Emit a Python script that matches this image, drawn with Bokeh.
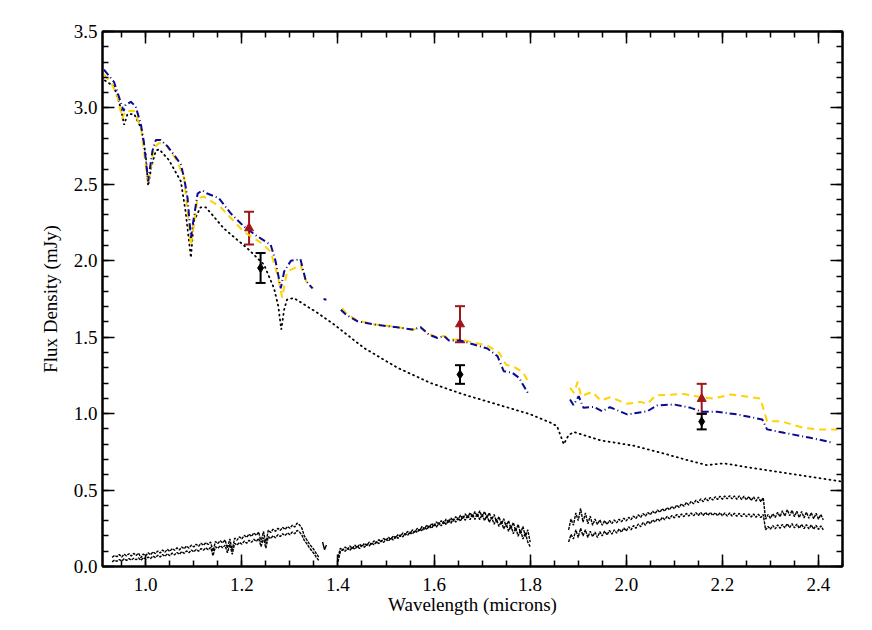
from bokeh.plotting import figure
from bokeh.models import (LinearAxis, FixedTicker, PrintfTickFormatter, Range1d,
                          ColumnDataSource, Whisker, TeeHead)
from bokeh.embed import file_html
from bokeh.resources import INLINE

NAN = float("nan")
FONT = "'Liberation Serif', 'Times New Roman', serif"

# ---------------- data ----------------
# dotted model photosphere
model_x = [0.915, 0.934, 0.948, 0.955, 0.962, 0.976, 0.990, 1.000, 1.005, 1.012, 1.021, 1.028,
           1.048, 1.073, 1.083, 1.094, 1.100, 1.114, 1.125, 1.163, 1.212, 1.246, 1.267, 1.276,
           1.282, 1.288, 1.294, 1.308, 1.357, 1.392, 1.454, 1.524, 1.593, 1.662, 1.732, 1.801,
           1.843, 1.856, 1.870, 1.880, 1.891, 1.947, 2.016, 2.085, 2.134, 2.168, 2.203, 2.259,
           2.328, 2.397, 2.450]
model_y = [3.18, 3.14, 3.00, 2.89, 2.96, 2.96, 2.87, 2.69, 2.49, 2.62, 2.72, 2.73,
           2.66, 2.52, 2.32, 2.02, 2.26, 2.35, 2.35, 2.21, 2.08, 1.975, 1.82, 1.70,
           1.55, 1.68, 1.746, 1.757, 1.66, 1.583, 1.43, 1.30, 1.20, 1.125, 1.06, 0.995,
           0.94, 0.918, 0.80, 0.86, 0.88, 0.825, 0.79, 0.733, 0.69, 0.663, 0.675, 0.646,
           0.613, 0.58, 0.555]

# blue dash-dot model
blue_x1 = [0.913, 0.934, 0.944, 0.954, 0.958, 0.969, 0.979, 0.990, 0.996, 1.005, 1.014, 1.021,
           1.031, 1.045, 1.062, 1.073, 1.080, 1.087, 1.094, 1.099, 1.108, 1.118, 1.128, 1.152,
           1.177, 1.204, 1.232, 1.260, 1.270, 1.281, 1.288, 1.302, 1.322, 1.333, 1.347]
blue_y1 = [3.25, 3.17, 3.075, 2.98, 3.02, 3.04, 3.01, 2.89, 2.78, 2.52, 2.72, 2.79,
           2.79, 2.75, 2.68, 2.63, 2.54, 2.41, 2.15, 2.26, 2.44, 2.46, 2.44, 2.41,
           2.31, 2.225, 2.16, 2.105, 2.00, 1.82, 1.93, 2.00, 2.01, 1.87, 1.82]
blue_x2 = [1.370, 1.376]
blue_y2 = [1.75, 1.745]
blue_x3 = [1.406, 1.416, 1.440, 1.475, 1.523, 1.555, 1.572, 1.589, 1.607, 1.621, 1.631, 1.655,
           1.683, 1.711, 1.732, 1.745, 1.763, 1.777, 1.795]
blue_y3 = [1.68, 1.65, 1.605, 1.583, 1.565, 1.55, 1.565, 1.518, 1.495, 1.507, 1.478, 1.478,
           1.452, 1.426, 1.376, 1.278, 1.267, 1.234, 1.136]
blue_x4 = [1.883, 1.890, 1.901, 1.911, 1.933, 1.950, 1.966, 2.002, 2.044, 2.064, 2.099, 2.134,
           2.158, 2.189, 2.231, 2.283, 2.293, 2.328, 2.383, 2.430]
blue_y4 = [1.093, 1.056, 1.114, 1.038, 1.044, 1.016, 1.042, 0.995, 1.016, 1.053, 1.060, 1.038,
           1.012, 1.012, 0.995, 0.962, 0.897, 0.875, 0.842, 0.810]

# yellow dashed model
yel_x1 = [0.913, 0.929, 0.941, 0.951, 0.958, 0.976, 0.990, 1.005, 1.017, 1.028, 1.042, 1.066,
          1.080, 1.094, 1.108, 1.121, 1.156, 1.183, 1.204, 1.239, 1.260, 1.274, 1.284, 1.294,
          1.308, 1.322, 1.336, 1.349]
yel_y1 = [3.22, 3.16, 3.075, 2.93, 2.98, 2.98, 2.87, 2.50, 2.74, 2.77, 2.76, 2.65,
          2.54, 2.10, 2.41, 2.42, 2.35, 2.26, 2.19, 2.12, 2.06, 1.91, 1.76, 1.93,
          1.95, 1.975, 1.845, 1.82]
yel_x2 = [1.409, 1.416, 1.440, 1.475, 1.523, 1.555, 1.572, 1.589, 1.607, 1.621, 1.631, 1.655,
          1.683, 1.711, 1.735, 1.750, 1.770, 1.785, 1.798]
yel_y2 = [1.69, 1.66, 1.61, 1.585, 1.567, 1.548, 1.563, 1.52, 1.50, 1.51, 1.485, 1.485,
          1.465, 1.445, 1.40, 1.32, 1.30, 1.27, 1.20]
yel_x3 = [1.883, 1.891, 1.899, 1.906, 1.929, 1.947, 1.967, 2.002, 2.030, 2.044, 2.061, 2.120,
          2.155, 2.182, 2.217, 2.245, 2.279, 2.293, 2.321, 2.369, 2.397, 2.439]
yel_y3 = [1.169, 1.136, 1.208, 1.114, 1.142, 1.086, 1.108, 1.064, 1.077, 1.064, 1.119, 1.129,
          1.108, 1.099, 1.125, 1.114, 1.099, 0.951, 0.951, 0.907, 0.897, 0.897]

# photometry
red_x = [1.215, 1.654, 2.157]
red_y = [2.213, 1.585, 1.097]
red_err = [0.107, 0.118, 0.098]
blk_x = [1.239, 1.654, 2.157]
blk_y = [1.953, 1.256, 0.948]
blk_err = [0.098, 0.061, 0.051]

# observed noisy spectra (two epochs), 0.005 micron grid
STEP = 0.005
specA_start = 0.930
specA_up = [0.060, 0.072, 0.064, 0.078, 0.062, 0.080, 0.070, 0.084, 0.068, 0.086, 0.072, 0.088,
            0.058, 0.082, 0.070, 0.090, 0.076, 0.096, 0.084, 0.102, 0.088, 0.108, 0.094, 0.112,
            0.098, 0.118, 0.106, 0.122, 0.108, 0.128, 0.116, 0.134, 0.120, 0.140, 0.128, 0.146,
            0.132, 0.152, 0.138, 0.156, 0.144, 0.160, 0.100, 0.164, 0.150, 0.168, 0.154, 0.174,
            0.120, 0.180, 0.105, 0.186, 0.172, 0.194, 0.180, 0.204, 0.190, 0.212, 0.196, 0.220,
            0.204, 0.226, 0.160, 0.230, 0.150, 0.238, 0.222, 0.244, 0.230, 0.250, 0.236, 0.256,
            0.242, 0.262, 0.250, 0.270, 0.258, 0.284, 0.272, 0.250, 0.200, 0.175, 0.150, 0.130,
            0.110, 0.085, 0.060]
specA_lo = [0.030, 0.042, 0.034, 0.046, 0.036, 0.050, 0.040, 0.052, 0.042, 0.054, 0.044, 0.056,
            0.040, 0.058, 0.048, 0.062, 0.052, 0.068, 0.058, 0.074, 0.062, 0.078, 0.066, 0.084,
            0.070, 0.088, 0.076, 0.092, 0.080, 0.098, 0.086, 0.102, 0.090, 0.108, 0.096, 0.112,
            0.100, 0.118, 0.106, 0.122, 0.110, 0.126, 0.070, 0.130, 0.118, 0.136, 0.122, 0.140,
            0.090, 0.146, 0.080, 0.152, 0.140, 0.158, 0.146, 0.166, 0.152, 0.172, 0.158, 0.178,
            0.164, 0.184, 0.130, 0.188, 0.120, 0.196, 0.182, 0.202, 0.188, 0.208, 0.196, 0.214,
            0.202, 0.220, 0.208, 0.226, 0.214, 0.236, 0.226, 0.205, 0.170, 0.150, 0.125, 0.105,
            0.085, 0.060, 0.040]
specK_x = [1.368, 1.372, 1.376]
specK_y = [0.16, 0.11, 0.14]
specB_start = 1.400
specB_up = [0.060, 0.120, 0.105, 0.128, 0.112, 0.134, 0.118, 0.140, 0.124, 0.146, 0.130, 0.152,
            0.138, 0.160, 0.146, 0.168, 0.154, 0.176, 0.162, 0.184, 0.170, 0.192, 0.178, 0.200,
            0.186, 0.210, 0.196, 0.220, 0.206, 0.230, 0.214, 0.240, 0.224, 0.250, 0.234, 0.262,
            0.244, 0.272, 0.254, 0.282, 0.262, 0.292, 0.272, 0.300, 0.280, 0.310, 0.288, 0.318,
            0.296, 0.326, 0.304, 0.336, 0.312, 0.344, 0.318, 0.352, 0.322, 0.360, 0.326, 0.364,
            0.324, 0.360, 0.318, 0.352, 0.306, 0.340, 0.290, 0.326, 0.276, 0.312, 0.260, 0.300,
            0.246, 0.288, 0.232, 0.276, 0.216, 0.262, 0.196, 0.240, 0.160]
specB_lo = [0.030, 0.098, 0.112, 0.100, 0.120, 0.106, 0.126, 0.112, 0.132, 0.118, 0.138, 0.126,
            0.146, 0.134, 0.154, 0.142, 0.162, 0.150, 0.170, 0.158, 0.178, 0.166, 0.186, 0.174,
            0.196, 0.184, 0.206, 0.194, 0.216, 0.204, 0.226, 0.212, 0.236, 0.222, 0.248, 0.232,
            0.258, 0.242, 0.268, 0.250, 0.278, 0.258, 0.288, 0.266, 0.296, 0.274, 0.304, 0.282,
            0.312, 0.290, 0.320, 0.296, 0.330, 0.302, 0.338, 0.306, 0.344, 0.308, 0.346, 0.306,
            0.342, 0.300, 0.334, 0.290, 0.322, 0.276, 0.310, 0.262, 0.296, 0.246, 0.282, 0.230,
            0.268, 0.214, 0.254, 0.198, 0.240, 0.180, 0.222, 0.160, 0.130]
specC_start = 1.880
specC_up = [0.240, 0.310, 0.270, 0.350, 0.300, 0.380, 0.290, 0.350, 0.280, 0.330, 0.270, 0.310,
            0.275, 0.305, 0.270, 0.300, 0.275, 0.302, 0.280, 0.305, 0.286, 0.310, 0.292, 0.316,
            0.298, 0.322, 0.306, 0.330, 0.314, 0.338, 0.322, 0.346, 0.330, 0.354, 0.338, 0.362,
            0.346, 0.370, 0.354, 0.378, 0.362, 0.386, 0.370, 0.394, 0.378, 0.402, 0.386, 0.410,
            0.394, 0.418, 0.402, 0.426, 0.410, 0.434, 0.418, 0.442, 0.424, 0.448, 0.430, 0.452,
            0.434, 0.456, 0.438, 0.460, 0.440, 0.462, 0.442, 0.464, 0.442, 0.462, 0.440, 0.462,
            0.438, 0.460, 0.436, 0.458, 0.432, 0.456, 0.428, 0.454, 0.424, 0.450, 0.310, 0.340,
            0.315, 0.345, 0.320, 0.355, 0.325, 0.365, 0.330, 0.372, 0.332, 0.368, 0.325, 0.362,
            0.320, 0.360, 0.318, 0.356, 0.315, 0.352, 0.312, 0.348, 0.310, 0.340, 0.305]
specC_lo = [0.160, 0.210, 0.180, 0.240, 0.190, 0.250, 0.200, 0.240, 0.190, 0.230, 0.195, 0.225,
            0.190, 0.228, 0.200, 0.232, 0.206, 0.236, 0.212, 0.240, 0.218, 0.246, 0.224, 0.252,
            0.232, 0.260, 0.240, 0.268, 0.250, 0.278, 0.260, 0.288, 0.270, 0.298, 0.280, 0.306,
            0.290, 0.314, 0.298, 0.322, 0.306, 0.328, 0.312, 0.334, 0.318, 0.340, 0.322, 0.344,
            0.326, 0.348, 0.330, 0.350, 0.332, 0.352, 0.334, 0.354, 0.334, 0.354, 0.334, 0.354,
            0.334, 0.352, 0.332, 0.352, 0.332, 0.350, 0.330, 0.350, 0.330, 0.348, 0.328, 0.348,
            0.326, 0.346, 0.326, 0.344, 0.324, 0.344, 0.322, 0.342, 0.320, 0.340, 0.240, 0.262,
            0.244, 0.268, 0.246, 0.272, 0.250, 0.276, 0.252, 0.280, 0.254, 0.280, 0.252, 0.278,
            0.250, 0.276, 0.248, 0.274, 0.246, 0.272, 0.244, 0.270, 0.242, 0.266, 0.240]

x_major = [1.0, 1.2, 1.4, 1.6, 1.8, 2.0, 2.2, 2.4]
y_major = [0.0, 0.5, 1.0, 1.5, 2.0, 2.5, 3.0, 3.5]

BLUE = "#0b0b8f"
YELLOW = "#ffd200"
RED = "#a0161a"


def join(*segs):
    xs, ys = [], []
    for i, (sx, sy) in enumerate(segs):
        if i:
            xs.append(NAN)
            ys.append(NAN)
        xs += list(sx)
        ys += list(sy)
    return xs, ys


def grid(start, vals):
    return [round(start + STEP * i, 4) for i in range(len(vals))]


p = figure(width=862, height=621, x_range=Range1d(0.91, 2.45), y_range=Range1d(0.0, 3.5),
           output_backend="svg", toolbar_location=None,
           min_border_left=102, min_border_right=20, min_border_top=31, min_border_bottom=55,
           x_axis_label="Wavelength (microns)", y_axis_label="Flux Density (mJy)")
p.xgrid.visible = False
p.ygrid.visible = False
p.outline_line_color = "black"
p.outline_line_width = 2
p.background_fill_color = "white"
p.border_fill_color = "white"

x_minor = [round(0.9 + 0.05 * i, 3) for i in range(32)]
y_minor = [round(0.1 * i, 2) for i in range(36)]


def style(ax, ticks, minor, show):
    ax.ticker = FixedTicker(ticks=ticks, minor_ticks=minor)
    ax.formatter = PrintfTickFormatter(format="%.1f")
    ax.major_tick_in = 12
    ax.major_tick_out = 0
    ax.minor_tick_in = 6
    ax.minor_tick_out = 0
    ax.major_tick_line_width = 1.5
    ax.minor_tick_line_width = 1.5
    ax.major_tick_line_color = "black"
    ax.minor_tick_line_color = "black"
    ax.axis_line_color = "black"
    ax.axis_line_width = 2
    ax.major_label_text_font = FONT
    ax.major_label_text_font_size = "19px"
    ax.major_label_text_color = "black"
    ax.axis_label_text_font = FONT
    ax.axis_label_text_font_size = "19px"
    ax.axis_label_text_font_style = "normal"
    ax.axis_label_text_color = "black"
    if not show:
        ax.major_label_text_alpha = 0
        ax.major_label_text_font_size = "1px"


style(p.xaxis[0], x_major, x_minor, True)
style(p.yaxis[0], y_major, y_minor, True)
p.xaxis[0].major_label_standoff = 11
p.xaxis[0].axis_label_standoff = 0
p.yaxis[0].major_label_standoff = 5
p.yaxis[0].axis_label_standoff = 10

top = LinearAxis()
right = LinearAxis()
style(top, x_major, x_minor, False)
style(right, y_major, y_minor, False)
p.add_layout(top, "above")
p.add_layout(right, "right")

# noisy spectra
for start, up, lo in [(specA_start, specA_up, specA_lo), (specB_start, specB_up, specB_lo),
                      (specC_start, specC_up, specC_lo)]:
    p.line(grid(start, up), up, line_color="black", line_width=1.4, line_dash="3 1")
    p.line(grid(start, lo), lo, line_color="black", line_width=1.4, line_dash="3 1")
p.line(specK_x, specK_y, line_color="black", line_width=1.4)

# models
p.line(model_x, model_y, line_color="black", line_width=1.8, line_dash="1 4", line_cap="round")
yx, yy = join((yel_x1, yel_y1), (yel_x2, yel_y2), (yel_x3, yel_y3))
p.line(yx, yy, line_color=YELLOW, line_width=2, line_dash="7 5")
bx, by = join((blue_x1, blue_y1), (blue_x2, blue_y2), (blue_x3, blue_y3), (blue_x4, blue_y4))
p.line(bx, by, line_color=BLUE, line_width=2, line_dash="7 3 1 3")

# photometry with error bars
for xs, ys, es, col, mk, sz in [(red_x, red_y, red_err, RED, "triangle", 9),
                                (blk_x, blk_y, blk_err, "black", "diamond", 9)]:
    src = ColumnDataSource(dict(x=xs, lo=[y - e for y, e in zip(ys, es)],
                                hi=[y + e for y, e in zip(ys, es)]))
    w = Whisker(source=src, base="x", lower="lo", upper="hi", line_color=col, line_width=2,
                upper_head=TeeHead(size=10, line_color=col, line_width=2),
                lower_head=TeeHead(size=10, line_color=col, line_width=2))
    p.add_layout(w)
    p.scatter(xs, ys, marker=mk, size=sz, fill_color=col, line_color=col)

open("out.html", "w").write(file_html(p, INLINE))
